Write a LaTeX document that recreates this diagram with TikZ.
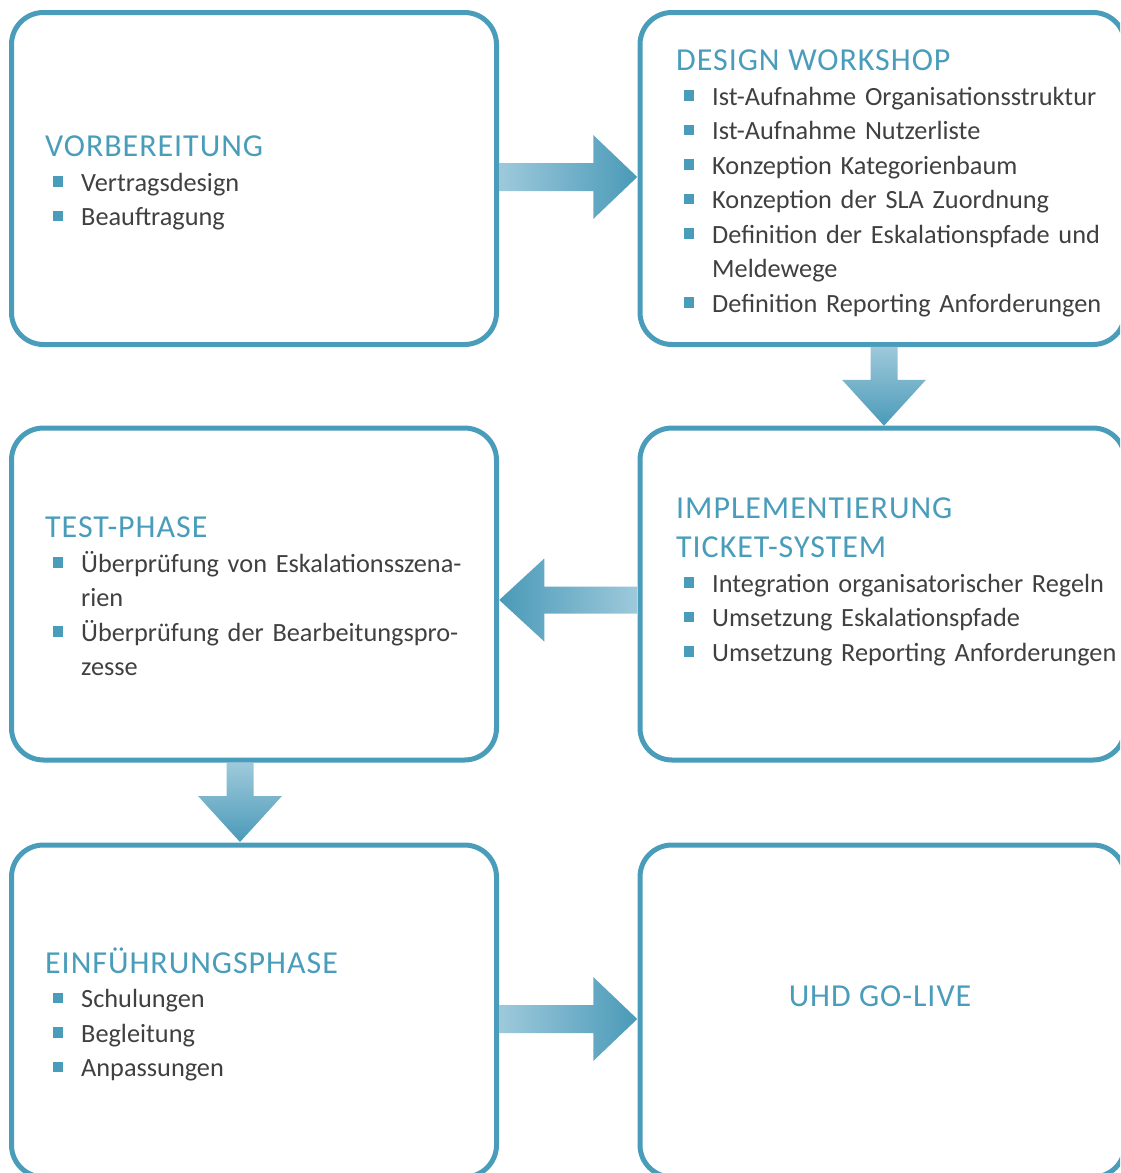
\documentclass[tikz,border=0pt]{standalone}
\usepackage{fontspec}
\setmainfont{Carlito}
\newfontfamily\headfont[LetterSpace=3]{Carlito}
\usetikzlibrary{calc}
\usetikzlibrary{positioning}
\definecolor{phaseblue}{RGB}{74,157,186}
\definecolor{bodygray}{RGB}{64,64,64}
\definecolor{arrowlight}{RGB}{158,201,219}
\definecolor{arrowdark}{RGB}{74,154,184}

\tikzset{
  phase/.style={draw=phaseblue, line width=5pt, rounded corners=32pt,
    minimum width=485pt, minimum height=332pt, inner sep=0pt, outer sep=0pt},
  phasetext/.style={anchor=base west, inner sep=0pt, text width=470pt,
    align=left, text=bodygray, font=\fontsize{26.3}{34.5}\selectfont},
  fillright/.style={left color=arrowlight, right color=arrowdark},
  fillleft/.style={left color=arrowdark, right color=arrowlight},
  filldown/.style={top color=arrowlight, bottom color=arrowdark},
}
% phase heading and bullet items
\newcommand\phasetitle[1]{{\headfont\fontsize{32}{39}\selectfont\color{phaseblue}#1\par}}
\newcommand\phaseitem[1]{\par\hangindent=36pt\hangafter=1\noindent
  \makebox[36pt][l]{\hspace*{7.5pt}\textcolor{phaseblue}{\rule[4.5pt]{10.5pt}{10.5pt}}}#1\par}

\begin{document}
\begin{tikzpicture}[x=1pt,y=-1pt]
  \path[use as bounding box] (0,0) rectangle (1120,1173);
  \clip (0,0) rectangle (1120,1173);

  % the six phases
  \node[phase] (vorb) at (254,178.5) {};
  \node[phase, right=143.5pt of vorb] (design) {};
  \node[phase, below=83.5pt of vorb] (test) {};
  \node[phase, below=83.5pt of design] (impl) {};
  \node[phase, below=85pt of test] (einf) {};
  \node[phase, below=85pt of impl] (golive) {};

  \node[phasetext] (vorbtext) at ($(vorb.north west)+(33.5,144)$) {%
    \phasetitle{VORBEREITUNG}
    \phaseitem{Vertragsdesign}
    \phaseitem{Beauftragung}};
  \node[phasetext] (designtext) at ($(design.north west)+(36,58)$) {%
    \phasetitle{DESIGN WORKSHOP}
    \phaseitem{Ist-Aufnahme Organisationsstruktur}
    \phaseitem{Ist-Aufnahme Nutzerliste}
    \phaseitem{Konzeption Kategorienbaum}
    \phaseitem{Konzeption der SLA Zuordnung}
    \phaseitem{Definition der Eskalationspfade und\newline Meldewege}
    \phaseitem{Definition Reporting Anforderungen}};
  \node[phasetext] (testtext) at ($(test.north west)+(33.5,109.5)$) {%
    \phasetitle{TEST-PHASE}
    \phaseitem{Überprüfung von Eskalationsszena-\newline rien}
    \phaseitem{Überprüfung der Bearbeitungspro-\newline zesse}};
  \node[phasetext] (impltext) at ($(impl.north west)+(36,90.5)$) {%
    \phasetitle{IMPLEMENTIERUNG\newline TICKET-SYSTEM}
    \phaseitem{Integration organisatorischer Regeln}
    \phaseitem{Umsetzung Eskalationspfade}
    \phaseitem{Umsetzung Reporting Anforderungen}};
  \node[phasetext] (einftext) at ($(einf.north west)+(33.5,128)$) {%
    \phasetitle{EINFÜHRUNGSPHASE}
    \phaseitem{Schulungen}
    \phaseitem{Begleitung}
    \phaseitem{Anpassungen}};
  \node[anchor=base, inner sep=0pt, text=phaseblue,
    font=\headfont\fontsize{32}{39}\selectfont] (golivetext)
    at ($(golive.center)+(-2.5,-5)$) {UHD GO-LIVE};

  % block arrows between the phases
  \coordinate (a1) at ($(vorb.east)!.5!(design.west)+(0,-1.5)$);
  \coordinate (a2) at ($(design.south)!.5!(impl.north)+(1.5,0)$);
  \coordinate (a3) at ($(impl.west)!.5!(test.east)+(0,6)$);
  \coordinate (a4) at ($(test.south)!.5!(einf.north)+(-14,0)$);
  \coordinate (a5) at ($(einf.east)!.5!(golive.west)+(0,8)$);

  \shade[fillright, shift={(a1)}] (-69,-14) -- (25,-14) -- (25,-42) -- (69,0)
    -- (25,42) -- (25,14) -- (-69,14) -- cycle;
  \shade[filldown, shift={(a2)}] (-13.5,-39.5) -- (13.5,-39.5) -- (13.5,-6.5)
    -- (42,-6.5) -- (0,39.5) -- (-42,-6.5) -- (-13.5,-6.5) -- cycle;
  \shade[fillleft, shift={(a3)}] (69,-13.5) -- (-24,-13.5) -- (-24,-41.5) -- (-69,0)
    -- (-24,41.5) -- (-24,13.5) -- (69,13.5) -- cycle;
  \shade[filldown, shift={(a4)}] (-13.5,-39.5) -- (13.5,-39.5) -- (13.5,-6.5)
    -- (42,-6.5) -- (0,39.5) -- (-42,-6.5) -- (-13.5,-6.5) -- cycle;
  \shade[fillright, shift={(a5)}] (-69,-14) -- (25,-14) -- (25,-42) -- (69,0)
    -- (25,42) -- (25,14) -- (-69,14) -- cycle;
\end{tikzpicture}
\end{document}
